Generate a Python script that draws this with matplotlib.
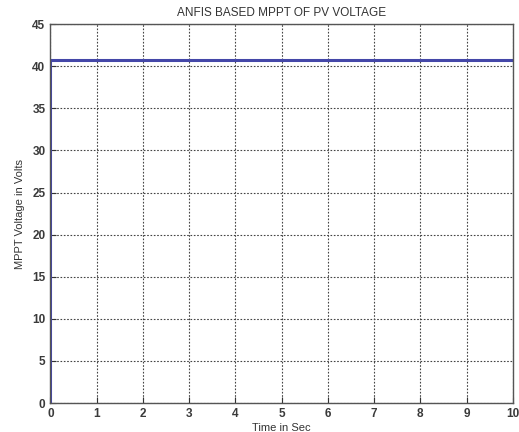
import matplotlib
matplotlib.use("Agg")
import matplotlib.pyplot as plt

# MPPT voltage trace
time_sec = [0.0, 0.0, 10.0]
mppt_volts = [0.0, 40.7, 40.7]
x_ticks = list(range(0, 11))
y_ticks = list(range(0, 50, 5))

plt.rcParams["font.family"] = ["Liberation Sans", "DejaVu Sans"]

fig = plt.figure(figsize=(5.19, 4.32), dpi=100)
ax = fig.add_axes([0.097, 0.067, 0.891, 0.877])

ax.plot(time_sec, mppt_volts, color="#4447a8", linewidth=2.2)

ax.set_xlim(0, 10)
ax.set_ylim(0, 45)
ax.set_xticks(x_ticks)
ax.set_yticks(y_ticks)
ax.tick_params(direction="in", labelsize=8.5, colors="#333333", length=4)
for lab in ax.get_xticklabels() + ax.get_yticklabels():
    lab.set_fontweight("bold")
    lab.set_color("#3a3a3a")
ax.grid(True, linestyle=(0, (1.5, 1.5)), color="#444444", linewidth=0.8)
for sp in ax.spines.values():
    sp.set_color("#555555")
    sp.set_linewidth(1.0)

ax.set_xlabel("Time in Sec", fontsize=8, color="#333333", labelpad=2)
ax.set_ylabel("MPPT Voltage in Volts", fontsize=8, color="#333333", labelpad=5)
ax.set_title("ANFIS BASED MPPT OF PV VOLTAGE", fontsize=8.5, color="#333333", pad=6)

fig.savefig("out.png", dpi=100)
